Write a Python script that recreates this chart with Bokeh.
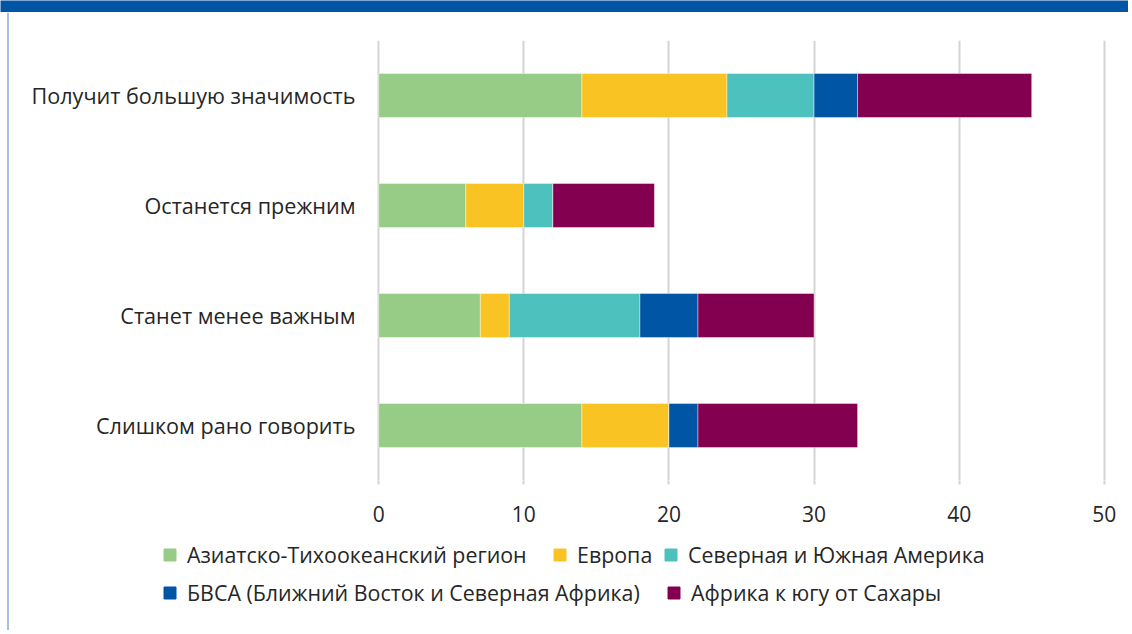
from bokeh.plotting import figure
from bokeh.models import (Legend, LegendItem, FixedTicker, Range1d, FactorRange,
                          ColumnDataSource, Span)
from bokeh.layouts import column, row
from bokeh.embed import file_html
from bokeh.resources import INLINE

categories = ["Получит большую значимость", "Останется прежним",
              "Станет менее важным", "Слишком рано говорить"]
series = ["Азиатско-Тихоокеанский регион", "Европа", "Северная и Южная Америка",
          "БВСА (Ближний Восток и Северная Африка)", "Африка к югу от Сахары"]
asia = [14, 6, 7, 14]
europe = [10, 4, 2, 6]
americas = [6, 2, 9, 0]
mena = [3, 0, 4, 2]
ssa = [12, 7, 8, 11]
colors = ["#97CC86", "#F9C423", "#4DC1BE", "#0055A5", "#830051"]
x_ticks = [0, 10, 20, 30, 40, 50]

keys = ["asia", "europe", "americas", "mena", "ssa"]
source = ColumnDataSource(dict(cat=categories, asia=asia, europe=europe,
                               americas=americas, mena=mena, ssa=ssa))

FONT = "Open Sans"
TXT = "#262626"
BLUE = "#0055A5"

STRIP_W = 9
BAND_H = 12
MAIN_W, MAIN_H = 1119, 523
LEG_H = 95
LEFT, FW = 362, 740
TOP, FH = 28, 440


def blank(width, height, bg="white"):
    f = figure(width=width, height=height, output_backend="svg", toolbar_location=None,
               x_range=Range1d(0, width), y_range=Range1d(0, height),
               x_axis_location=None, y_axis_location=None, min_border=0,
               outline_line_color=None, background_fill_color=bg, border_fill_color=bg)
    f.grid.visible = False
    f.frame_align = False
    return f


# top band
band = blank(STRIP_W + MAIN_W, BAND_H, bg=BLUE)

# left rule strip
strip = blank(STRIP_W, MAIN_H + LEG_H)
strip.add_layout(Span(location=7.5, dimension="height", line_color="#4a80c8", line_width=1))

# main chart
p = figure(width=MAIN_W, height=MAIN_H, output_backend="svg", toolbar_location=None,
           y_range=FactorRange(*reversed(categories)), x_range=Range1d(-0.5, 50.5),
           min_border_left=LEFT, min_border_right=MAIN_W - LEFT - FW,
           min_border_top=TOP, min_border_bottom=MAIN_H - TOP - FH,
           outline_line_color=None, background_fill_color="white",
           border_fill_color="white")
p.frame_align = False
p.y_range.range_padding = 0

renderers = p.hbar_stack(keys, y="cat", height=0.4, color=colors, source=source,
                         line_color="white", line_width=0.8, line_alpha=0.5)

p.xaxis.ticker = FixedTicker(ticks=x_ticks)
p.xaxis.axis_line_color = None
p.xaxis.major_tick_line_color = "#d4d4d4"
p.xaxis.major_tick_line_width = 2
p.xaxis.major_tick_out = 4
p.xaxis.major_tick_in = 0
p.xaxis.minor_tick_line_color = None
p.xaxis.major_label_standoff = 21
p.xaxis.major_label_text_font = FONT
p.xaxis.major_label_text_font_size = "21px"
p.xaxis.major_label_text_color = TXT

p.yaxis.axis_line_color = None
p.yaxis.major_tick_line_color = None
p.yaxis.minor_tick_line_color = None
p.yaxis.major_tick_out = 0
p.yaxis.major_tick_in = 0
p.yaxis.major_label_standoff = 16
p.yaxis.major_label_text_font = FONT
p.yaxis.major_label_text_font_size = "21.6px"
p.yaxis.major_label_text_color = TXT

p.ygrid.grid_line_color = None
p.xgrid.grid_line_color = "#d4d4d4"
p.xgrid.grid_line_width = 2

# legend panel
leg = blank(MAIN_W, LEG_H)
offscreen = ColumnDataSource(dict(y=[-100], right=[1]))
dummies = [leg.hbar(y="y", right="right", height=1, color=c, source=offscreen)
           for c in colors]

# (x, y-from-bottom) of each legend entry inside the legend panel
legend_locs = [(153, 61), (543, 61), (654, 61), (153, 23), (657, 23)]

for i, loc in enumerate(legend_locs):
    leg.add_layout(Legend(items=[LegendItem(label=series[i], renderers=[dummies[i]])],
                          orientation="horizontal", location=loc,
                          glyph_width=15, glyph_height=15, label_standoff=10,
                          padding=0, margin=0, border_line_color=None,
                          background_fill_alpha=0, label_text_font=FONT,
                          label_text_font_size="21.4px", label_text_color=TXT,
                          label_height=15), "center")

layout = column(band, row(strip, column(p, leg)))
open("out.html", "w").write(file_html(layout, INLINE))
